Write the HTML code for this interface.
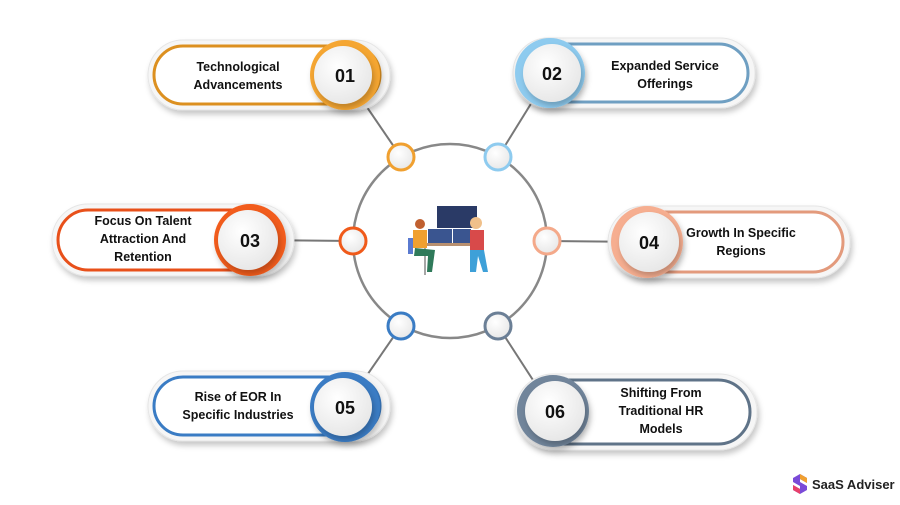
<!DOCTYPE html>
<html><head><meta charset="utf-8"><style>
body{margin:0;background:#fff}
text{font-family:"Liberation Sans",sans-serif;font-weight:bold;fill:#111}
</style></head><body>
<svg width="900" height="500" viewBox="0 0 900 500" xmlns="http://www.w3.org/2000/svg">
<defs>
<filter id="sh" x="-20%" y="-20%" width="140%" height="150%"><feDropShadow dx="2" dy="4" stdDeviation="3" flood-color="#000" flood-opacity="0.22"/></filter>
<radialGradient id="wg" cx="40%" cy="35%" r="70%"><stop offset="0" stop-color="#fff"/><stop offset="1" stop-color="#e6e6e6"/></radialGradient>
</defs>
<g stroke="#777" stroke-width="2">
<line x1="345" y1="75" x2="401" y2="157"/>
<line x1="550" y1="73" x2="498" y2="157"/>
<line x1="250" y1="240" x2="353" y2="241"/>
<line x1="647" y1="242" x2="547" y2="241"/>
<line x1="345" y1="407" x2="401" y2="326"/>
<line x1="553" y1="411" x2="498" y2="326"/>
</g>
<circle cx="450" cy="241" r="97" fill="none" stroke="#888" stroke-width="2.5"/>
<g stroke-width="3" fill="url(#wg)">
<circle cx="401" cy="157" r="13" stroke="#f0a030"/>
<circle cx="498" cy="157" r="13" stroke="#8ecbef"/>
<circle cx="353" cy="241" r="13" stroke="#f05a1a"/>
<circle cx="547" cy="241" r="13" stroke="#f4a98a"/>
<circle cx="401" cy="326" r="13" stroke="#3a7cc4"/>
<circle cx="498" cy="326" r="13" stroke="#6b7f96"/>
</g>
<g>
<rect x="437" y="206" width="40" height="22" fill="#2a3a66"/>
<rect x="428" y="229" width="24" height="14" fill="#3a5590"/>
<rect x="453" y="229" width="18" height="14" fill="#3a5590"/>
<rect x="420" y="243" width="55" height="3" fill="#b89070"/>
<line x1="425" y1="246" x2="425" y2="275" stroke="#888" stroke-width="1.5"/>
<rect x="413" y="230" width="14" height="18" fill="#f0a030"/>
<circle cx="420" cy="224" r="5" fill="#c06030"/>
<path d="M415 248 L435 250 L432 272 L427 272 L428 256 L414 256Z" fill="#2f7a5a"/>
<rect x="408" y="238" width="5" height="16" fill="#5a7ad0"/>
<rect x="470" y="230" width="14" height="20" fill="#d84a4a"/>
<circle cx="476" cy="223" r="6" fill="#f0c08a"/>
<path d="M470 250 L484 250 L488 272 L483 272 L478 256 L476 272 L470 272Z" fill="#3ea0d8"/>
</g>
<g filter="url(#sh)">
<rect x="148" y="40" width="242" height="70" rx="35" fill="#f6f6f6" stroke="#e6e6e6"/>
<rect x="513" y="38" width="242" height="70" rx="35" fill="#f6f6f6" stroke="#e6e6e6"/>
<rect x="52" y="204" width="242" height="72" rx="36" fill="#f6f6f6" stroke="#e6e6e6"/>
<rect x="608" y="206" width="242" height="72" rx="36" fill="#f6f6f6" stroke="#e6e6e6"/>
<rect x="148" y="371" width="242" height="70" rx="35" fill="#f6f6f6" stroke="#e6e6e6"/>
<rect x="515" y="374" width="242" height="76" rx="38" fill="#f6f6f6" stroke="#e6e6e6"/>
</g>
<g fill="#fff" stroke-width="3">
<rect x="154" y="46" width="226" height="58" rx="29" stroke="#dc9020"/>
<rect x="522" y="44" width="226" height="58" rx="29" stroke="#6f9fc2"/>
<rect x="58" y="210" width="226" height="60" rx="30" stroke="#e8501a"/>
<rect x="617" y="212" width="226" height="60" rx="30" stroke="#e39a7c"/>
<rect x="154" y="377" width="226" height="58" rx="29" stroke="#3a7cc4"/>
<rect x="524" y="380" width="226" height="64" rx="32" stroke="#5f7388"/>
</g>
<g filter="url(#sh)">
<circle cx="345" cy="75" r="35" fill="#f5a630"/>
<circle cx="550" cy="73" r="35" fill="#8ecbef"/>
<circle cx="250" cy="240" r="36" fill="#f25c1c"/>
<circle cx="647" cy="242" r="36" fill="#f6ae90"/>
<circle cx="345" cy="407" r="35" fill="#3a7cc4"/>
<circle cx="553" cy="411" r="36" fill="#71859b"/>
</g>
<g fill="url(#wg)" filter="url(#sh)">
<circle cx="343" cy="75" r="29"/>
<circle cx="552" cy="73" r="29"/>
<circle cx="248" cy="240" r="30"/>
<circle cx="649" cy="242" r="30"/>
<circle cx="343" cy="407" r="29"/>
<circle cx="555" cy="411" r="30"/>
</g>
<g font-size="18" text-anchor="middle">
<text x="345" y="82">01</text>
<text x="552" y="80">02</text>
<text x="250" y="247">03</text>
<text x="649" y="249">04</text>
<text x="345" y="414">05</text>
<text x="555" y="418">06</text>
</g>
<g font-size="12.5" text-anchor="middle">
<text x="238" y="71">Technological</text><text x="238" y="89">Advancements</text>
<text x="665" y="70">Expanded Service</text><text x="665" y="88">Offerings</text>
<text x="143" y="225">Focus On Talent</text><text x="143" y="243">Attraction And</text><text x="143" y="261">Retention</text>
<text x="741" y="237">Growth In Specific</text><text x="741" y="255">Regions</text>
<text x="238" y="401">Rise of EOR In</text><text x="238" y="419">Specific Industries</text>
<text x="661" y="397">Shifting From</text><text x="661" y="415">Traditional HR</text><text x="661" y="433">Models</text>
</g>
<g>
<path d="M793 478 L800 474 L807 478 L807 483 L800 479 L800 482 L807 486 L807 490 L800 494 L793 490 L793 485 L800 489 L800 486 L793 482Z" fill="#7a4ad8"/>
<path d="M800 474 L807 478 L807 483 L800 479Z" fill="#f0a030"/>
<path d="M793 485 L800 489 L800 494 L793 490Z" fill="#e8406a"/>
<text x="812" y="489" font-size="13" style="fill:#222">SaaS Adviser</text>
</g>
</svg>
</body></html>
